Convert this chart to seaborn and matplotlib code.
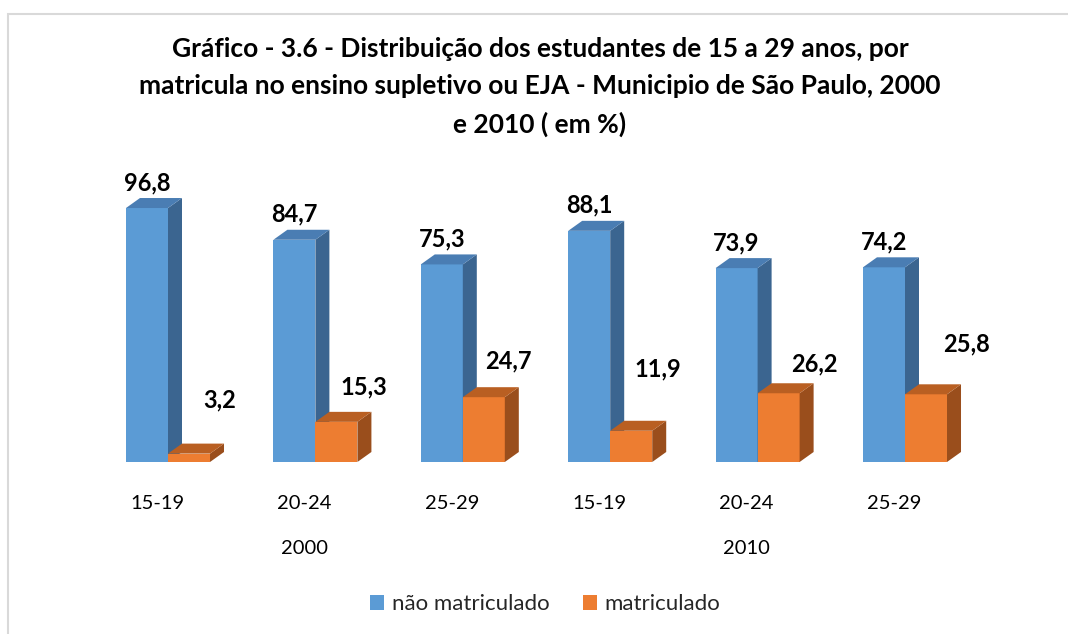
import matplotlib
matplotlib.use("Agg")
import matplotlib.pyplot as plt
from matplotlib.patches import Polygon, Rectangle
from matplotlib.transforms import ScaledTranslation
import seaborn as sns
import pandas as pd

# --- data -------------------------------------------------------------
anos = ["2000", "2010"]
faixas = ["15-19", "20-24", "25-29"]
situacoes = ["não matriculado", "matriculado"]
nao_matriculado = [96.8, 84.7, 75.3, 88.1, 73.9, 74.2]
matriculado = [3.2, 15.3, 24.7, 11.9, 26.2, 25.8]

titulo = ("Gráfico - 3.6 - Distribuição dos estudantes de 15 a 29 anos, por\n"
          "matricula no ensino supletivo ou EJA - Municipio de São Paulo, 2000\n"
          "e 2010 ( em %)")

grupos = [f"{a} {f}" for a in anos for f in faixas]
rotulos = [f for a in anos for f in faixas]
df = pd.DataFrame({
    "grupo": grupos * 2,
    "situacao": [situacoes[0]] * len(grupos) + [situacoes[1]] * len(grupos),
    "valor": nao_matriculado + matriculado,
})

# --- style -------------------------------------------------------------
cores_frente = ["#5B9BD5", "#ED7D31"]
cores_topo = ["#4A7DB3", "#B95F22"]
cores_lado = ["#3B6590", "#9A4E1C"]

sns.set_theme(style="white")
plt.rcParams["font.family"] = ["Lato", "DejaVu Sans"]

W, H = 1068, 634
DPI = 100
PT = 72 / DPI  # points per pixel

fig = plt.figure(figsize=(W / DPI, H / DPI), dpi=DPI)
ax_w_px, ax_h_px = 884.4, 302.0
ax = fig.add_axes([94.3 / W, (H - 462) / H, ax_w_px / W, ax_h_px / H])

sns.barplot(data=df, x="grupo", y="valor", hue="situacao", order=grupos,
            hue_order=situacoes, palette=cores_frente, saturation=1,
            width=0.57, errorbar=None, linewidth=0, ax=ax)

xmin, xmax, ymax = -0.5, 5.5, 115.1
ax.set_xlim(xmin, xmax)
ax.set_ylim(0, ymax)
sns.despine(ax=ax, left=True, bottom=True)
ax.set_yticks([])
ax.set_xlabel("")
ax.set_ylabel("")

# depth of the pseudo-3D prisms, in pixels converted to data units
dx = 14 * (xmax - xmin) / ax_w_px
dy = 10 * ymax / ax_h_px

for i, cont in enumerate(ax.containers):
    base_z = 2 + 2 * i
    for bar in cont:
        bar.set_zorder(base_z)
        x0, w, h = bar.get_x(), bar.get_width(), bar.get_height()
        x1 = x0 + w
        lado = Polygon([(x1, 0), (x1 + dx, dy), (x1 + dx, h + dy), (x1, h)],
                       closed=True, facecolor=cores_lado[i], edgecolor="none",
                       zorder=base_z + 0.5, clip_on=False)
        topo = Polygon([(x0, h), (x0 + dx, h + dy), (x1 + dx, h + dy), (x1, h)],
                       closed=True, facecolor=cores_topo[i], edgecolor="none",
                       zorder=base_z + 0.5, clip_on=False)
        ax.add_patch(lado)
        ax.add_patch(topo)

# value labels (pixel nudges for the second series, as laid out in the report)
nudge_matric = [(31, 46), (27, 27), (25, 29), (27, 54), (36, 22), (40, 43)]
for i, cont in enumerate(ax.containers):
    for j, bar in enumerate(cont):
        h = bar.get_height()
        xc = bar.get_x() + bar.get_width() / 2
        if i == 0:
            off = (0, 18)
        else:
            off = nudge_matric[j]
        ax.annotate(f"{h:.1f}".replace(".", ","), xy=(xc, h),
                    xytext=(off[0] * PT, off[1] * PT), textcoords="offset points",
                    ha="center", va="baseline", fontsize=17, fontweight="bold",
                    color="black", annotation_clip=False, zorder=10)

# category tick labels
ax.set_xticks(range(len(grupos)))
ax.set_xticklabels(rotulos, fontsize=14.5, color="black")
ax.tick_params(axis="x", length=0, pad=33 * PT)
shift = ScaledTranslation(-11 / DPI, 0, fig.dpi_scale_trans)
for lab in ax.get_xticklabels():
    lab.set_transform(lab.get_transform() + shift)

# year labels under the middle age group of each block
for k, ano in enumerate(anos):
    ax.annotate(ano, xy=(k * len(faixas) + 1, 1 - 548 / H),
                xycoords=("data", "figure fraction"),
                xytext=(-11 * PT, 0), textcoords="offset points",
                ha="center", va="center", fontsize=14.5, color="black",
                annotation_clip=False)

# title
fig.text(540 / W, 1 - 37 / H, titulo, ha="center", va="top", fontsize=19,
         fontweight="bold", color="black", linespacing=1.64)

# legend
sns.move_legend(ax, "center", bbox_to_anchor=(545 / W, 1 - 604 / H),
                bbox_transform=fig.transFigure, ncol=2, title=None,
                frameon=False, fontsize=16, handlelength=0.64,
                handleheight=0.64, handletextpad=0.35, columnspacing=1.5)

# chart-area border
fig.add_artist(Rectangle((8 / W, -0.05), 1.2, 1 - 14 / H + 0.05,
                         transform=fig.transFigure, fill=False,
                         edgecolor="#D9D9D9", linewidth=1.5))

fig.savefig("out.png", dpi=DPI, facecolor="white")
